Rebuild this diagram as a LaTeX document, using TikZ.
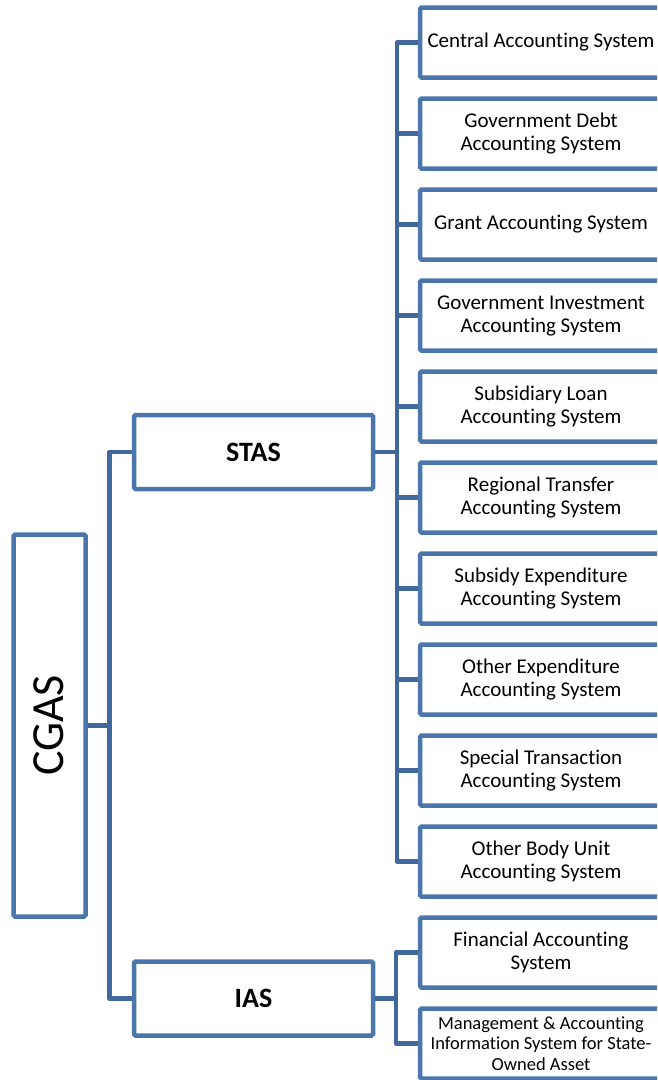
\documentclass[tikz,border=0pt]{standalone}
\usepackage{fontspec}
\setmainfont{Carlito}[Ligatures={NoCommon}]
\definecolor{boxblue}{RGB}{74,118,172}
\definecolor{linkblue}{RGB}{65,104,154}
\begin{document}
\begin{tikzpicture}[x=1pt,y=-1pt,
  box/.style={draw=boxblue, line width=4.5pt, rounded corners=1.5pt, inner sep=0pt, align=center, text=black},
  leaf/.style={box, minimum width=242pt, minimum height=70pt, font=\fontsize{21}{23}\selectfont},
  small/.style={font=\fontsize{18.5}{20.5}\selectfont},
  mid/.style={box, minimum width=239pt, minimum height=74pt, font=\fontsize{28}{30}\selectfont\bfseries},
  root/.style={box, minimum width=72pt, minimum height=382pt},
  link/.style={draw=linkblue, line width=4.5pt, line join=round}
]
\useasboundingbox (0,0) rectangle (657,1080);
\clip (0,0) rectangle (657,1080);

% root
\node[root] (cgas) at (49.5,725.5) {};
\node[rotate=90, font=\fontsize{46}{48}\selectfont, inner sep=0pt] (cgastext) at (49,725.5) {CGAS};

% middle level
\node[mid] (stas) at (253.5,452) {STAS};
\node[mid] (ias) at (253.5,998.5) {IAS};

% leaves
\node[leaf] (l1) at (541,42.5) {Central Accounting System};
\node[leaf] (l2) at (541,133.5) {Government Debt\\Accounting System};
\node[leaf] (l3) at (541,224.5) {Grant Accounting System};
\node[leaf] (l4) at (541,315.5) {Government Investment\\Accounting System};
\node[leaf] (l5) at (541,406.5) {Subsidiary Loan\\Accounting System};
\node[leaf] (l6) at (541,497.5) {Regional Transfer\\Accounting System};
\node[leaf] (l7) at (541,588.5) {Subsidy Expenditure\\Accounting System};
\node[leaf] (l8) at (541,679.5) {Other Expenditure\\Accounting System};
\node[leaf] (l9) at (541,770.5) {Special Transaction\\Accounting System};
\node[leaf] (l10) at (541,861.5) {Other Body Unit\\Accounting System};
\node[leaf] (l11) at (541,952.5) {Financial Accounting\\System};
\node[leaf, small] (l12) at (541,1043.5) {Management \& Accounting\\Information System for State-\\Owned Asset};

% connectors root level
\coordinate (jr) at (109.5,725.5);
\draw[link] (cgas.east) -- (jr);
\draw[link] (stas.west) -| (jr) |- (ias.west);

% STAS branch
\coordinate (js) at (397,452);
\draw[link] (stas.east) -- (js);
\draw[link] (l1.west) -| (js) |- (l10.west);
\foreach \n in {2,...,9}{\draw[link] (l\n.west) -- (l\n.west -| js);}

% IAS branch
\coordinate (ji) at (396,998.5);
\draw[link] (ias.east) -- (ji);
\draw[link] (l11.west) -| (ji) |- (l12.west);
\end{tikzpicture}
\end{document}
